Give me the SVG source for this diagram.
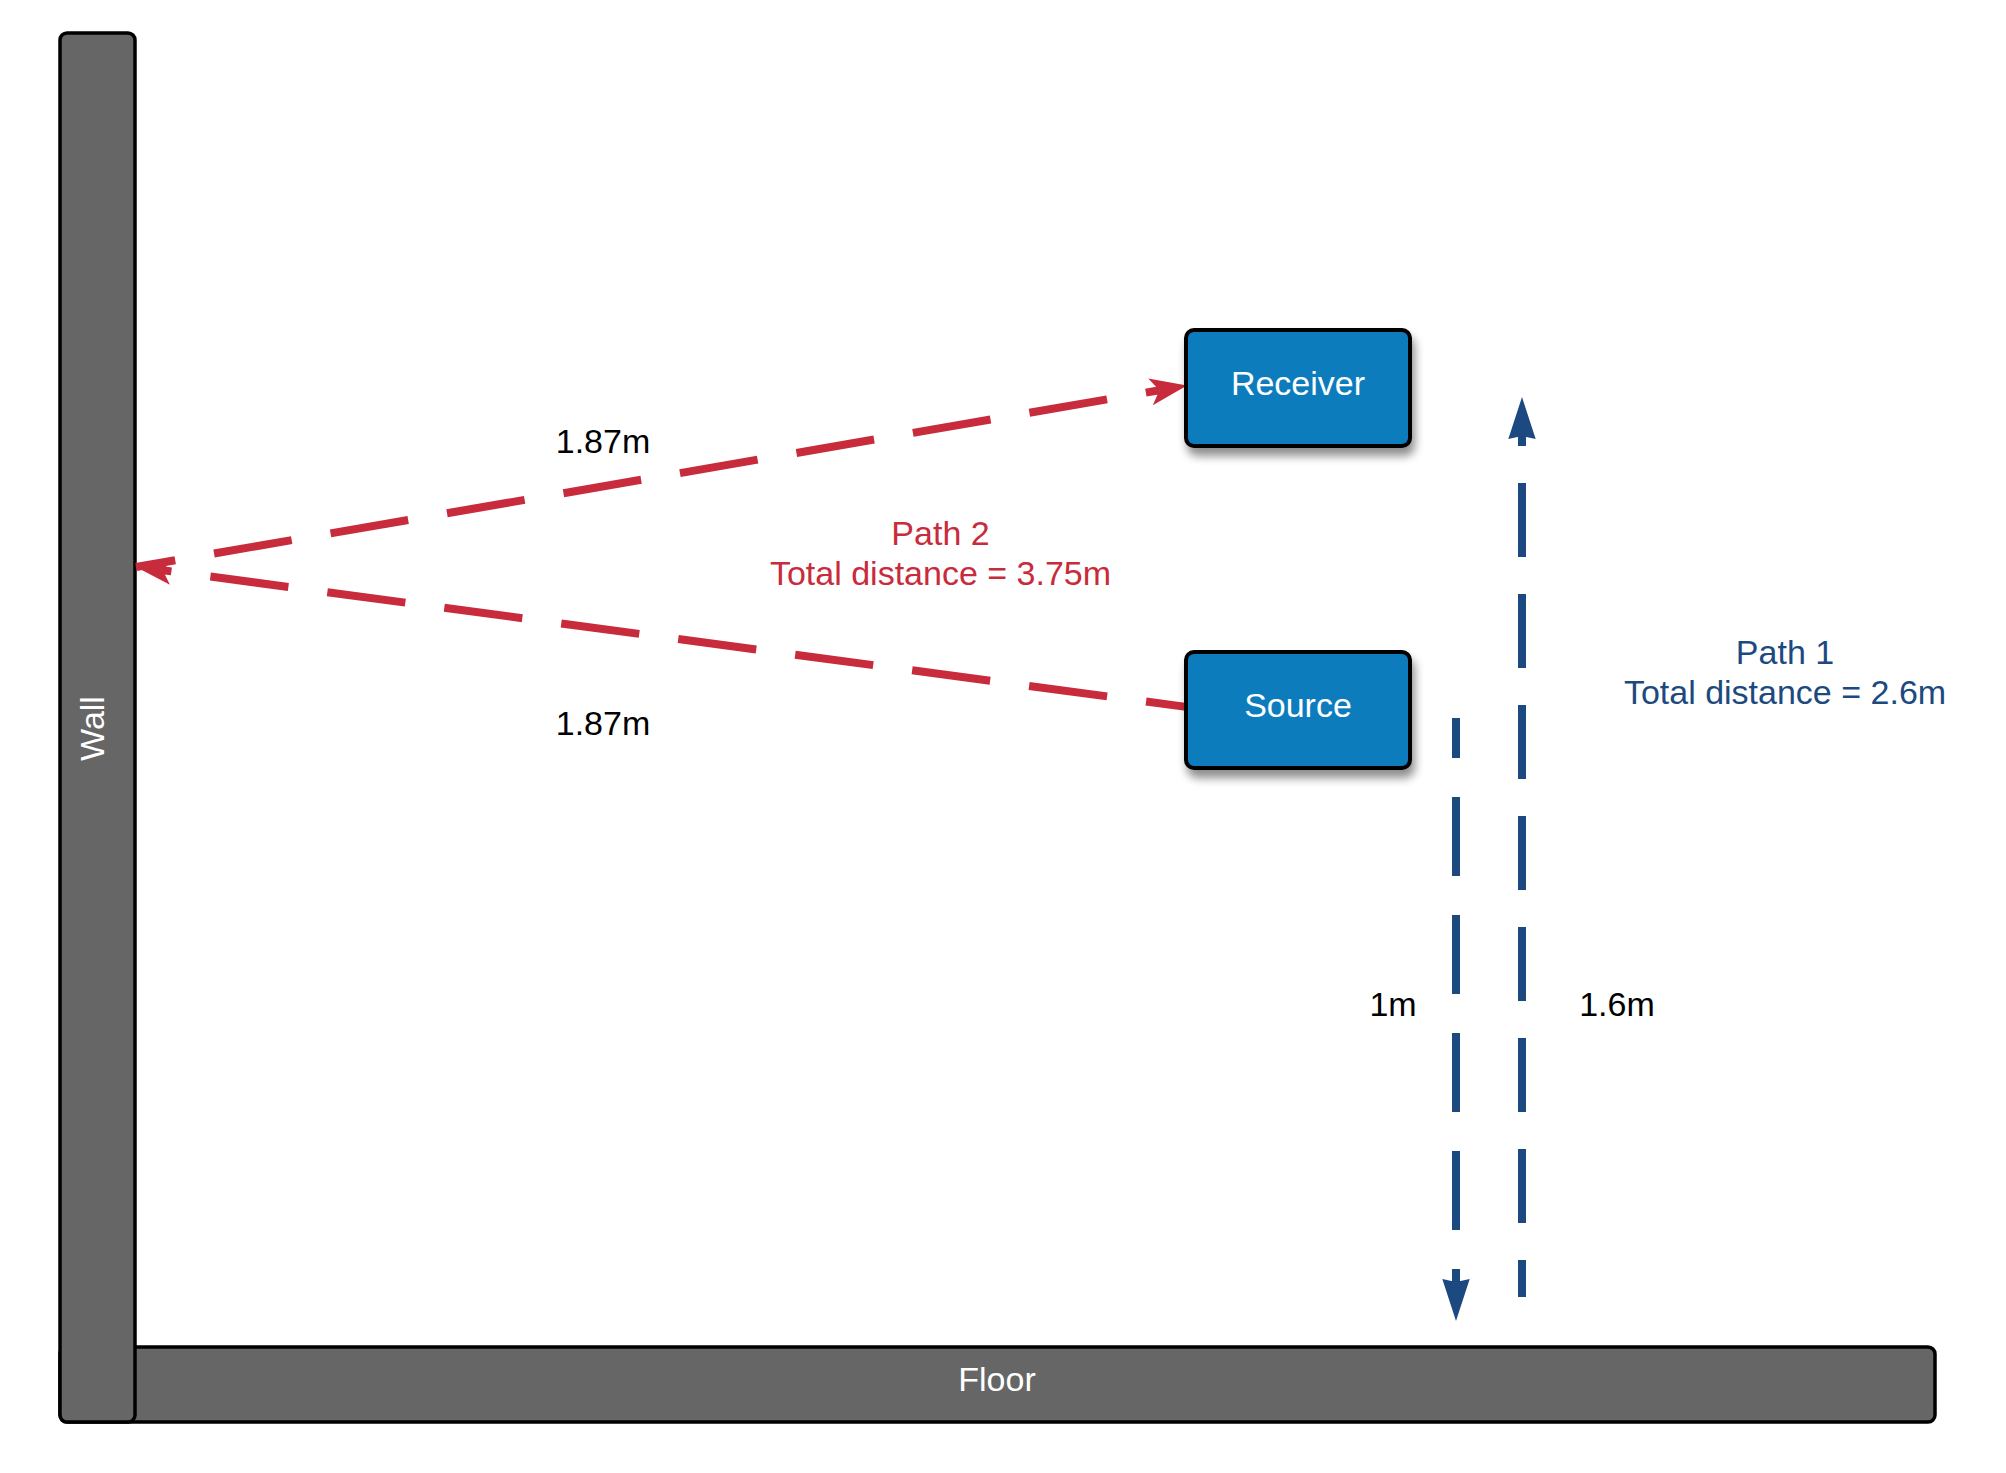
<svg xmlns="http://www.w3.org/2000/svg" width="2006" height="1473" viewBox="0 0 2006 1473">
  <style>
    text { font-family: "Liberation Sans", Arial, Helvetica, sans-serif; font-size: 34px; text-anchor: middle; }
    .struct { fill: #666666; stroke: #000000; stroke-width: 3.5; }
    .box { fill: #0E7BBD; stroke: #000000; stroke-width: 4; }
    .white { fill: #FFFFFF; }
    .black { fill: #000000; }
    .redtxt { fill: #C82B3B; }
    .bluetxt { fill: #1C4A80; }
    .red { fill: none; stroke: #C82B3B; stroke-width: 8; }
    .blue { fill: none; stroke: #1C4A80; stroke-width: 8; }
  </style>
  <defs>
    <filter id="shadow" x="-20%" y="-20%" width="150%" height="160%">
      <feGaussianBlur in="SourceAlpha" stdDeviation="5"/>
      <feOffset dx="3" dy="8" result="b"/>
      <feComponentTransfer><feFuncA type="linear" slope="0.45"/></feComponentTransfer>
      <feMerge><feMergeNode/><feMergeNode in="SourceGraphic"/></feMerge>
    </filter>
    <marker id="redHead" markerUnits="userSpaceOnUse" viewBox="0 -15 40 30" markerWidth="40" markerHeight="30" refX="9" refY="0" orient="auto">
      <path d="M0,-13.5 L37,0 L0,13.5 L9,0 Z" fill="#C82B3B"/>
    </marker>
    <marker id="blueHead" markerUnits="userSpaceOnUse" viewBox="0 -15 44 30" markerWidth="44" markerHeight="30" refX="3" refY="0" orient="auto">
      <path d="M0,-13.7 L42,0 L0,13.7 L3,0 Z" fill="#1C4A80"/>
    </marker>
  </defs>
  <rect width="2006" height="1473" fill="#FFFFFF"/>

  <g id="floor">
    <rect class="struct" x="60" y="1347" width="1875" height="75" rx="7"/>
    <text class="white" x="997" y="1391">Floor</text>
  </g>

  <g id="wall">
    <rect class="struct" x="60" y="33" width="75" height="1389" rx="7"/>
    <text class="white" transform="translate(104,728.5) rotate(-90)">Wall</text>
  </g>

  <g id="connectors">
    <line class="red" x1="1186" y1="706.9" x2="162.8" y2="570.2" stroke-dasharray="78.7 39.3" stroke-dashoffset="38.4" marker-end="url(#redHead)"/>
    <line class="red" x1="136" y1="567" x2="1159.4" y2="390.3" stroke-dasharray="78.8 39.4" stroke-dashoffset="39" marker-end="url(#redHead)"/>
    <line class="blue" x1="1456" y1="718" x2="1456" y2="1282" stroke-dasharray="79 39" stroke-dashoffset="39" marker-end="url(#blueHead)"/>
    <line class="blue" x1="1522" y1="1297" x2="1522" y2="436" stroke-dasharray="74 37" stroke-dashoffset="37" marker-end="url(#blueHead)"/>
  </g>

  <g id="receiver">
    <rect class="box" x="1186" y="330" width="224" height="116" rx="8" filter="url(#shadow)"/>
    <text class="white" x="1298" y="395">Receiver</text>
  </g>

  <g id="source">
    <rect class="box" x="1186" y="652" width="224" height="116" rx="8" filter="url(#shadow)"/>
    <text class="white" x="1298" y="717">Source</text>
  </g>

  <g id="labels">
    <text class="black" x="603" y="453">1.87m</text>
    <text class="black" x="603" y="735">1.87m</text>
    <text class="redtxt" x="940.5" y="545">Path 2</text>
    <text class="redtxt" x="940.5" y="585">Total distance = 3.75m</text>
    <text class="bluetxt" x="1785" y="664">Path 1</text>
    <text class="bluetxt" x="1785" y="704">Total distance = 2.6m</text>
    <text class="black" x="1393" y="1016">1m</text>
    <text class="black" x="1617" y="1016">1.6m</text>
  </g>
</svg>
